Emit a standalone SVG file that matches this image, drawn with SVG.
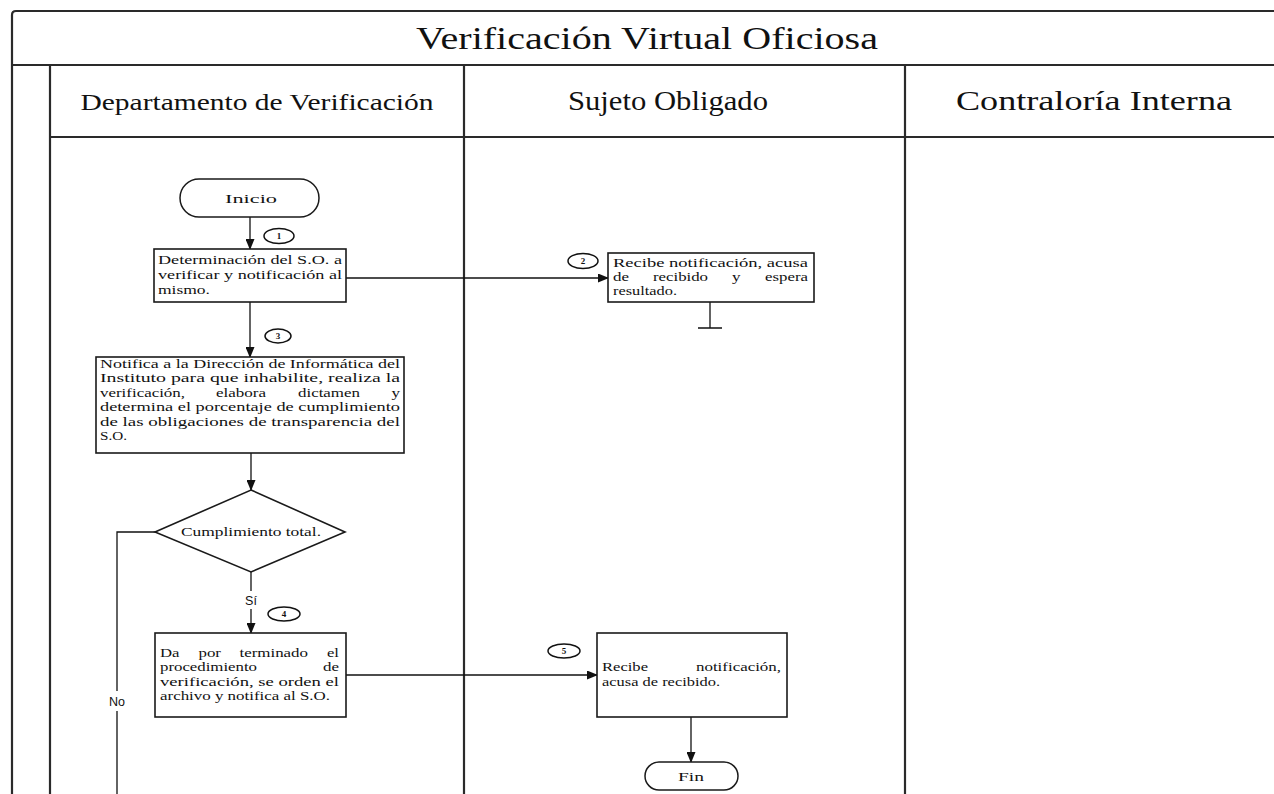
<svg xmlns="http://www.w3.org/2000/svg" width="1274" height="794" viewBox="0 0 1274 794">
<style>
.frame{stroke:#2a2a2a;stroke-width:2.2;fill:none}
.box{fill:#fff;stroke:#1a1a1a;stroke-width:1.6}
.term{fill:#fff;stroke:#1a1a1a;stroke-width:1.5}
.conn{stroke:#111;stroke-width:1.3;fill:none}
.step{fill:#fff;stroke:#111;stroke-width:1.5}
.t{font-family:"Liberation Serif","DejaVu Serif",serif;font-size:12.5px;fill:#111}
.sn{font-family:"Liberation Serif",serif;font-size:9px;font-weight:bold;fill:#111;text-anchor:middle}
.hd{font-family:"Liberation Serif",serif;fill:#111;text-anchor:middle}
.lbl{font-family:"Liberation Sans",Arial,sans-serif;font-size:12.5px;fill:#111;text-anchor:middle}
</style>
<defs>
<marker id="arr" markerWidth="11" markerHeight="9" refX="10" refY="4.5" orient="auto" markerUnits="userSpaceOnUse">
<path d="M0,0 L11,4.5 L0,9 Z" fill="#111"/>
</marker>
</defs>
<rect width="1274" height="794" fill="#fff"/>
<g id="frame">
<path class="frame" d="M12,794 V15 Q12,11 16,11 H1274"/>
<path class="frame" d="M12,65 H1274"/>
<path class="frame" d="M50,65 V794"/>
<path class="frame" d="M50,137 H1274"/>
<path class="frame" d="M464,65 V794"/>
<path class="frame" d="M905,65 V794"/>
<text class="hd" x="647" y="49" font-size="32" textLength="462" lengthAdjust="spacingAndGlyphs">Verificación Virtual Oficiosa</text>
<text class="hd" x="257" y="110" font-size="24" textLength="353" lengthAdjust="spacingAndGlyphs">Departamento de Verificación</text>
<text class="hd" x="668" y="110" font-size="27" textLength="200" lengthAdjust="spacingAndGlyphs">Sujeto Obligado</text>
<text class="hd" x="1094" y="110" font-size="27" textLength="276" lengthAdjust="spacingAndGlyphs">Contraloría Interna</text>
</g>
<g id="connectors">
<path class="conn" d="M250,217 V249" marker-end="url(#arr)"/>
<path class="conn" d="M346,278 H608" marker-end="url(#arr)"/>
<path class="conn" d="M710,302 V328 M698,328 H722"/>
<path class="conn" d="M250,302 V357" marker-end="url(#arr)"/>
<path class="conn" d="M251,453 V490" marker-end="url(#arr)"/>
<path class="conn" d="M251,572 V591"/>
<path class="conn" d="M251,609 V633" marker-end="url(#arr)"/>
<path class="conn" d="M155,532 H117 V691 M117,711 V794"/>
<path class="conn" d="M346,675 H597" marker-end="url(#arr)"/>
<path class="conn" d="M691,717 V762" marker-end="url(#arr)"/>
<text class="lbl" x="251" y="605">Sí</text>
<text class="lbl" x="117" y="706">No</text>
</g>
<g id="inicio">
<rect class="term" x="180" y="179" width="139" height="38" rx="19"/>
<text class="t" x="225" y="203" font-size="14" textLength="52" lengthAdjust="spacingAndGlyphs">Inicio</text>
</g>
<g id="step1">
<ellipse class="step" cx="279" cy="236" rx="15" ry="7.5"/>
<text class="sn" x="279" y="239">1</text>
</g>
<g id="box1">
<rect class="box" x="154" y="249" width="192" height="53"/>
<text class="t" x="158" y="264" textLength="184" lengthAdjust="spacingAndGlyphs">Determinación del S.O. a</text>
<text class="t" x="158" y="279" textLength="184" lengthAdjust="spacingAndGlyphs">verificar y notificación al</text>
<text class="t" x="158" y="294" textLength="52" lengthAdjust="spacingAndGlyphs">mismo.</text>
</g>
<g id="step2">
<ellipse class="step" cx="583" cy="261" rx="15" ry="7.5"/>
<text class="sn" x="583" y="264">2</text>
</g>
<g id="box2">
<rect class="box" x="608" y="253" width="206" height="49"/>
<text class="t" x="613" y="267" textLength="195" lengthAdjust="spacingAndGlyphs">Recibe notificación, acusa</text>
<text class="t" x="613" y="281" textLength="16" lengthAdjust="spacingAndGlyphs">de</text>
<text class="t" x="653" y="281" textLength="55" lengthAdjust="spacingAndGlyphs">recibido</text>
<text class="t" x="732" y="281" textLength="8.5" lengthAdjust="spacingAndGlyphs">y</text>
<text class="t" x="765" y="281" textLength="43" lengthAdjust="spacingAndGlyphs">espera</text>
<text class="t" x="613" y="295" textLength="64" lengthAdjust="spacingAndGlyphs">resultado.</text>
</g>
<g id="step3">
<ellipse class="step" cx="278" cy="336" rx="13" ry="7"/>
<text class="sn" x="278" y="339">3</text>
</g>
<g id="box3">
<rect class="box" x="96" y="357" width="308" height="96"/>
<text class="t" x="100" y="368" textLength="300" lengthAdjust="spacingAndGlyphs">Notifica a la Dirección de Informática del</text>
<text class="t" x="100" y="382" textLength="300" lengthAdjust="spacingAndGlyphs">Instituto para que inhabilite, realiza la</text>
<text class="t" x="100" y="397" textLength="85" lengthAdjust="spacingAndGlyphs">verificación,</text>
<text class="t" x="216" y="397" textLength="50" lengthAdjust="spacingAndGlyphs">elabora</text>
<text class="t" x="298" y="397" textLength="62" lengthAdjust="spacingAndGlyphs">dictamen</text>
<text class="t" x="391.5" y="397" textLength="8.5" lengthAdjust="spacingAndGlyphs">y</text>
<text class="t" x="100" y="411" textLength="300" lengthAdjust="spacingAndGlyphs">determina el porcentaje de cumplimiento</text>
<text class="t" x="100" y="426" textLength="300" lengthAdjust="spacingAndGlyphs">de las obligaciones de transparencia del</text>
<text class="t" x="100" y="440" textLength="27" lengthAdjust="spacingAndGlyphs">S.O.</text>
</g>
<g id="decision">
<polygon class="box" points="251,490 345,532 251,572 155,532"/>
<text class="t" x="181" y="536" textLength="140" lengthAdjust="spacingAndGlyphs">Cumplimiento total.</text>
</g>
<g id="step4">
<ellipse class="step" cx="284" cy="614" rx="16" ry="7"/>
<text class="sn" x="284" y="617">4</text>
</g>
<g id="box4">
<rect class="box" x="155" y="633" width="191" height="84"/>
<text class="t" x="160" y="657" textLength="19.5" lengthAdjust="spacingAndGlyphs">Da</text>
<text class="t" x="198.5" y="657" textLength="22.5" lengthAdjust="spacingAndGlyphs">por</text>
<text class="t" x="239.5" y="657" textLength="68.5" lengthAdjust="spacingAndGlyphs">terminado</text>
<text class="t" x="327" y="657" textLength="12" lengthAdjust="spacingAndGlyphs">el</text>
<text class="t" x="160" y="671" textLength="97" lengthAdjust="spacingAndGlyphs">procedimiento</text>
<text class="t" x="323" y="671" textLength="16" lengthAdjust="spacingAndGlyphs">de</text>
<text class="t" x="160" y="686" textLength="179" lengthAdjust="spacingAndGlyphs">verificación, se orden el</text>
<text class="t" x="160" y="700" textLength="170" lengthAdjust="spacingAndGlyphs">archivo y notifica al S.O.</text>
</g>
<g id="step5">
<ellipse class="step" cx="564" cy="651" rx="16" ry="7"/>
<text class="sn" x="564" y="654">5</text>
</g>
<g id="box5">
<rect class="box" x="597" y="633" width="190" height="84"/>
<text class="t" x="602" y="671" textLength="46" lengthAdjust="spacingAndGlyphs">Recibe</text>
<text class="t" x="696" y="671" textLength="85" lengthAdjust="spacingAndGlyphs">notificación,</text>
<text class="t" x="602" y="686" textLength="118" lengthAdjust="spacingAndGlyphs">acusa de recibido.</text>
</g>
<g id="fin">
<rect class="term" x="645" y="762" width="93" height="28" rx="14"/>
<text class="t" x="678" y="781" font-size="12" textLength="26" lengthAdjust="spacingAndGlyphs">Fin</text>
</g>
</svg>
